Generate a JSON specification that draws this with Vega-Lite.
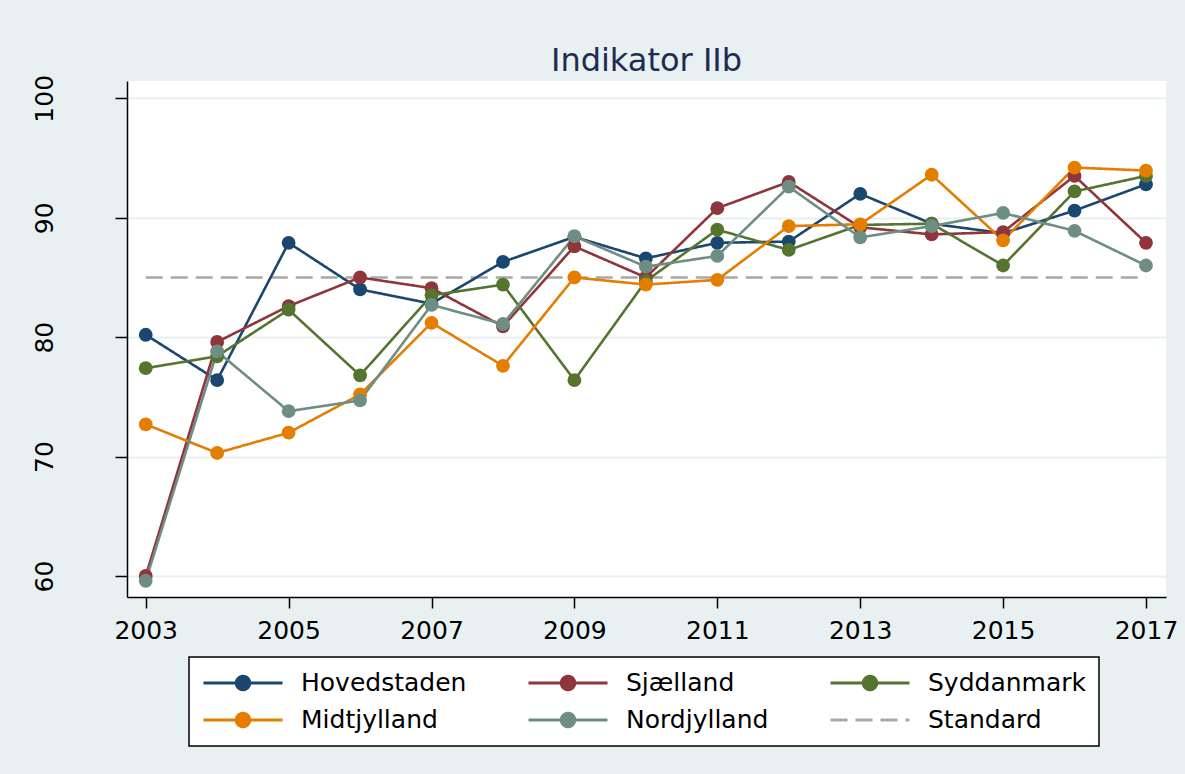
{
  "$schema": "https://vega.github.io/schema/vega-lite/v6.json",
  "width": 1039,
  "height": 516,
  "autosize": {"type": "none"},
  "padding": {"left": 127, "top": 81, "right": 19, "bottom": 177},
  "background": "#e8f0f2",
  "config": {
    "font": "DejaVu Sans",
    "view": {"fill": "white", "stroke": null},
    "axis": {
      "labelFont": "DejaVu Sans",
      "labelFontSize": 25,
      "labelColor": "black",
      "domainColor": "black",
      "domainWidth": 1.5,
      "tickColor": "black",
      "tickWidth": 1.5,
      "title": null
    }
  },
  "title": {
    "text": "Indikator IIb",
    "font": "DejaVu Sans",
    "fontSize": 32,
    "fontWeight": "normal",
    "color": "#1e2c52",
    "anchor": "middle",
    "baseline": "alphabetic",
    "offset": -29
  },
  "data": {
    "values": [
      {"series": "Standard", "year": 2003, "value": 85},
      {"series": "Standard", "year": 2017, "value": 85},
      {"series": "Hovedstaden", "year": 2003, "value": 80.2},
      {"series": "Hovedstaden", "year": 2004, "value": 76.4},
      {"series": "Hovedstaden", "year": 2005, "value": 87.9},
      {"series": "Hovedstaden", "year": 2006, "value": 84.0},
      {"series": "Hovedstaden", "year": 2007, "value": 82.8},
      {"series": "Hovedstaden", "year": 2008, "value": 86.3},
      {"series": "Hovedstaden", "year": 2009, "value": 88.4},
      {"series": "Hovedstaden", "year": 2010, "value": 86.6},
      {"series": "Hovedstaden", "year": 2011, "value": 87.9},
      {"series": "Hovedstaden", "year": 2012, "value": 88.0},
      {"series": "Hovedstaden", "year": 2013, "value": 92.0},
      {"series": "Hovedstaden", "year": 2014, "value": 89.5},
      {"series": "Hovedstaden", "year": 2015, "value": 88.7},
      {"series": "Hovedstaden", "year": 2016, "value": 90.6},
      {"series": "Hovedstaden", "year": 2017, "value": 92.8},
      {"series": "Sjælland", "year": 2003, "value": 60.0},
      {"series": "Sjælland", "year": 2004, "value": 79.6},
      {"series": "Sjælland", "year": 2005, "value": 82.6},
      {"series": "Sjælland", "year": 2006, "value": 85.0},
      {"series": "Sjælland", "year": 2007, "value": 84.1},
      {"series": "Sjælland", "year": 2008, "value": 80.9},
      {"series": "Sjælland", "year": 2009, "value": 87.6},
      {"series": "Sjælland", "year": 2010, "value": 85.0},
      {"series": "Sjælland", "year": 2011, "value": 90.8},
      {"series": "Sjælland", "year": 2012, "value": 93.0},
      {"series": "Sjælland", "year": 2013, "value": 89.2},
      {"series": "Sjælland", "year": 2014, "value": 88.6},
      {"series": "Sjælland", "year": 2015, "value": 88.8},
      {"series": "Sjælland", "year": 2016, "value": 93.5},
      {"series": "Sjælland", "year": 2017, "value": 87.9},
      {"series": "Syddanmark", "year": 2003, "value": 77.4},
      {"series": "Syddanmark", "year": 2004, "value": 78.4},
      {"series": "Syddanmark", "year": 2005, "value": 82.3},
      {"series": "Syddanmark", "year": 2006, "value": 76.8},
      {"series": "Syddanmark", "year": 2007, "value": 83.5},
      {"series": "Syddanmark", "year": 2008, "value": 84.4},
      {"series": "Syddanmark", "year": 2009, "value": 76.4},
      {"series": "Syddanmark", "year": 2010, "value": 84.7},
      {"series": "Syddanmark", "year": 2011, "value": 89.0},
      {"series": "Syddanmark", "year": 2012, "value": 87.3},
      {"series": "Syddanmark", "year": 2013, "value": 89.4},
      {"series": "Syddanmark", "year": 2014, "value": 89.5},
      {"series": "Syddanmark", "year": 2015, "value": 86.0},
      {"series": "Syddanmark", "year": 2016, "value": 92.2},
      {"series": "Syddanmark", "year": 2017, "value": 93.5},
      {"series": "Midtjylland", "year": 2003, "value": 72.7},
      {"series": "Midtjylland", "year": 2004, "value": 70.3},
      {"series": "Midtjylland", "year": 2005, "value": 72.0},
      {"series": "Midtjylland", "year": 2006, "value": 75.2},
      {"series": "Midtjylland", "year": 2007, "value": 81.2},
      {"series": "Midtjylland", "year": 2008, "value": 77.6},
      {"series": "Midtjylland", "year": 2009, "value": 85.0},
      {"series": "Midtjylland", "year": 2010, "value": 84.4},
      {"series": "Midtjylland", "year": 2011, "value": 84.8},
      {"series": "Midtjylland", "year": 2012, "value": 89.3},
      {"series": "Midtjylland", "year": 2013, "value": 89.45},
      {"series": "Midtjylland", "year": 2014, "value": 93.6},
      {"series": "Midtjylland", "year": 2015, "value": 88.1},
      {"series": "Midtjylland", "year": 2016, "value": 94.2},
      {"series": "Midtjylland", "year": 2017, "value": 93.95},
      {"series": "Nordjylland", "year": 2003, "value": 59.6},
      {"series": "Nordjylland", "year": 2004, "value": 78.8},
      {"series": "Nordjylland", "year": 2005, "value": 73.8},
      {"series": "Nordjylland", "year": 2006, "value": 74.7},
      {"series": "Nordjylland", "year": 2007, "value": 82.7},
      {"series": "Nordjylland", "year": 2008, "value": 81.1},
      {"series": "Nordjylland", "year": 2009, "value": 88.45},
      {"series": "Nordjylland", "year": 2010, "value": 85.9},
      {"series": "Nordjylland", "year": 2011, "value": 86.8},
      {"series": "Nordjylland", "year": 2012, "value": 92.6},
      {"series": "Nordjylland", "year": 2013, "value": 88.35},
      {"series": "Nordjylland", "year": 2014, "value": 89.3},
      {"series": "Nordjylland", "year": 2015, "value": 90.4},
      {"series": "Nordjylland", "year": 2016, "value": 88.9},
      {"series": "Nordjylland", "year": 2017, "value": 86.0}
    ]
  },
  "encoding": {
    "x": {
      "field": "year",
      "type": "quantitative",
      "scale": {"domain": [2002.738, 2017.28], "nice": false, "zero": false},
      "axis": {
        "values": [2003, 2005, 2007, 2009, 2011, 2013, 2015, 2017],
        "format": "d",
        "grid": false,
        "tickSize": 11,
        "labelPadding": 10,
        "labelFlush": false,
        "labelOverlap": false,
        "labelBound": false
      }
    },
    "y": {
      "field": "value",
      "type": "quantitative",
      "scale": {"domain": [58.24, 101.45], "nice": false, "zero": false},
      "axis": {
        "values": [60, 70, 80, 90, 100],
        "grid": true,
        "gridColor": "#e8f0f2",
        "gridWidth": 2,
        "tickSize": 12,
        "labelAngle": -90,
        "labelAlign": "center",
        "labelBaseline": "alphabetic",
        "labelPadding": 63,
        "labelOverlap": false,
        "labelBound": false
      }
    },
    "color": {
      "field": "series",
      "type": "nominal",
      "scale": {
        "domain": ["Hovedstaden", "Sjælland", "Syddanmark", "Midtjylland", "Nordjylland", "Standard"],
        "range": ["#1a476f", "#90353b", "#55752f", "#e37e00", "#6e8e84", "#a8a8a8"]
      },
      "legend": {
        "title": null,
        "orient": "none",
        "legendX": 62,
        "legendY": 576,
        "direction": "horizontal",
        "columns": 3,
        "columnPadding": 60,
        "rowPadding": 11,
        "padding": 13,
        "fillColor": "white",
        "strokeColor": "black",
        "labelFont": "DejaVu Sans",
        "labelFontSize": 25,
        "labelColor": "black",
        "labelOffset": 17,
        "labelLimit": 400,
        "symbolSize": 6241,
        "symbolStrokeWidth": 3,
        "clipHeight": 26,
        "encode": {
          "legend": {"update": {"strokeWidth": {"value": 1.5}}},
          "symbols": {
            "update": {
              "shape": {"signal": "datum.value === 'Standard' ? 'M-1,0L1,0' : 'M-1,0L1,0M-0.17,0A0.17,0.17,0,1,0,0.17,0A0.17,0.17,0,1,0,-0.17,0Z'"},
              "fill": {"signal": "datum.value === 'Standard' ? 'transparent' : scale('color', datum.value)"},
              "stroke": {"signal": "scale('color', datum.value)"},
              "strokeWidth": {"value": 3},
              "opacity": {"value": 1}
            }
          }
        }
      }
    }
  },
  "layer": [
    {
      "mark": {"type": "line", "strokeWidth": 2.6},
      "encoding": {
        "strokeDash": {
          "field": "series",
          "type": "nominal",
          "scale": {
            "domain": ["Hovedstaden", "Sjælland", "Syddanmark", "Midtjylland", "Nordjylland", "Standard"],
            "range": [[1, 0], [1, 0], [1, 0], [1, 0], [1, 0], [17, 8]]
          }
        }
      }
    },
    {
      "transform": [{"filter": "datum.series !== 'Standard'"}],
      "mark": {"type": "point", "filled": true, "size": 190, "opacity": 1}
    }
  ]
}
